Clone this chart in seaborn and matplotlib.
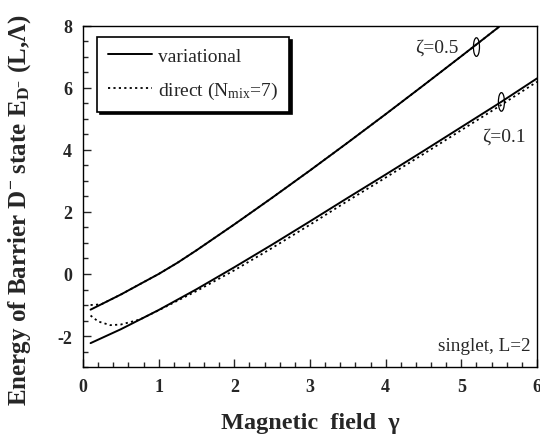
import numpy as np
import pandas as pd
import matplotlib
matplotlib.use("Agg")
import matplotlib.pyplot as plt
from matplotlib.patches import Ellipse
from matplotlib.ticker import MultipleLocator
import seaborn as sns

# ---- data ----
gamma = [0.1, 0.25, 0.5, 0.75, 1.0, 1.25, 1.5, 2.0, 2.5, 3.0, 3.5, 4.0, 4.5, 5.0, 5.5]
var_z05 = [-1.15, -0.967, -0.662, -0.33, 0.0, 0.365, 0.765, 1.60, 2.46, 3.34, 4.24, 5.155, 6.085, 7.025, 7.975]
dir_z05_x = [0.1, 0.18, 0.25, 0.5, 0.75, 1.0, 1.25, 1.5, 2.0, 2.5, 3.0, 3.5, 4.0, 4.5, 5.0, 5.5]
dir_z05 = [-1.0, -0.99, -0.967, -0.662, -0.33, 0.0, 0.365, 0.765, 1.60, 2.46, 3.34, 4.24, 5.155, 6.085, 7.025, 7.975]

gamma_b = [0.1, 0.5, 1.0, 1.5, 2.0, 2.5, 3.0, 3.5, 4.0, 4.5, 5.0, 5.5, 6.0]
var_z01 = [-2.23, -1.782, -1.162, -0.492, 0.218, 0.948, 1.698, 2.458, 3.208, 3.968, 4.738, 5.508, 6.308]
dir_z01_x = [0.1, 0.2, 0.36, 0.5, 0.75, 1.0, 1.5, 2.0, 2.5, 3.0, 3.5, 4.0, 4.5, 5.0, 5.5, 6.0]
dir_z01 = [-1.34, -1.53, -1.65, -1.63, -1.47, -1.17, -0.55, 0.12, 0.84, 1.59, 2.36, 3.11, 3.87, 4.64, 5.41, 6.20]

x_ticks = [0, 1, 2, 3, 4, 5, 6]
y_ticks = [-2, 0, 2, 4, 6, 8]

sns.set_theme(style="white")
plt.rcParams['font.family'] = ['Liberation Serif', 'DejaVu Serif']
plt.rcParams['mathtext.fontset'] = 'custom'
plt.rcParams['mathtext.rm'] = 'Liberation Serif'
plt.rcParams['mathtext.it'] = 'Liberation Serif:italic'
plt.rcParams['mathtext.bf'] = 'Liberation Serif:bold'
plt.rcParams['axes.unicode_minus'] = False

frames = []
for name, xs, ys, kind in [
    ("v05", gamma, var_z05, "variational"),
    ("d05", dir_z05_x, dir_z05, "direct"),
    ("v01", gamma_b, var_z01, "variational"),
    ("d01", dir_z01_x, dir_z01, "direct"),
]:
    frames.append(pd.DataFrame({"gamma": xs, "E": ys, "curve": name, "kind": kind}))
df = pd.concat(frames, ignore_index=True)

fig = plt.figure(figsize=(5.4, 4.35), dpi=100)
ax = fig.add_axes([0.1537, 0.154, 0.8407, 0.784])

DIRECT_LABEL = "direct (N$_{\\rm mix}$=7)"
for name in ["d05", "d01"]:
    sub = df[df.curve == name]
    sns.lineplot(data=sub, x="gamma", y="E", ax=ax, color="black", lw=1.3,
                 linestyle=(0, (1.2, 1.8)), estimator=None, sort=False,
                 label=DIRECT_LABEL if name == "d05" else None)
for name in ["v05", "v01"]:
    sub = df[df.curve == name]
    sns.lineplot(data=sub, x="gamma", y="E", ax=ax, color="black", lw=1.4,
                 linestyle="-", estimator=None, sort=False,
                 label="variational" if name == "v05" else None)

ax.set_xlim(0, 6)
ax.set_ylim(-3, 8)
ax.set_xticks(x_ticks)
ax.set_yticks(y_ticks)
ax.xaxis.set_minor_locator(MultipleLocator(0.2))
ax.yaxis.set_minor_locator(MultipleLocator(0.5))
ax.tick_params(which="both", direction="in", bottom=True, left=True, top=False, right=False,
               labelsize=13, pad=8)
ax.tick_params(which="major", length=6, width=1)
ax.tick_params(which="minor", length=3.5, width=1)
for lab in ax.get_xticklabels() + ax.get_yticklabels():
    lab.set_fontweight("bold")
for s in ax.spines.values():
    s.set_color("black")
    s.set_linewidth(1.0)

ax.set_xlabel("Magnetic  field  γ", fontsize=17.5, fontweight="bold", labelpad=12)
ax.set_ylabel(r"Energy of Barrier D$^{\mathbf{-}}$ state E$_{\mathbf{D}^{\mathbf{-}}}$ (L,Λ)",
              fontsize=18, fontweight="bold")
ax.yaxis.set_label_coords(-0.11, 0.462)

handles, labels = ax.get_legend_handles_labels()
order = [labels.index("variational"), labels.index(DIRECT_LABEL)]
leg = ax.legend([handles[i] for i in order], [labels[i] for i in order],
                loc="upper left", bbox_to_anchor=(0.031, 0.968), fontsize=14,
                frameon=True, fancybox=False, shadow={'color': 'black', 'alpha': 1.0},
                handlelength=2.3, handletextpad=0.3, borderpad=0.55, labelspacing=0.75,
                borderaxespad=0)
leg.get_frame().set_edgecolor("black")
leg.get_frame().set_linewidth(1.2)

ax.text(4.39, 7.32, "ζ=0.5", fontsize=14, va="center", ha="left")
ax.text(5.27, 4.45, "ζ=0.1", fontsize=14, va="center", ha="left")
ax.add_patch(Ellipse((5.2, 7.32), 0.08, 0.6, fill=False, lw=0.9, color="black"))
ax.add_patch(Ellipse((5.53, 5.55), 0.08, 0.6, fill=False, lw=0.9, color="black"))
ax.text(5.92, -2.3, "singlet, L=2", fontsize=13.8, va="center", ha="right")

fig.savefig("out.png", dpi=100)
